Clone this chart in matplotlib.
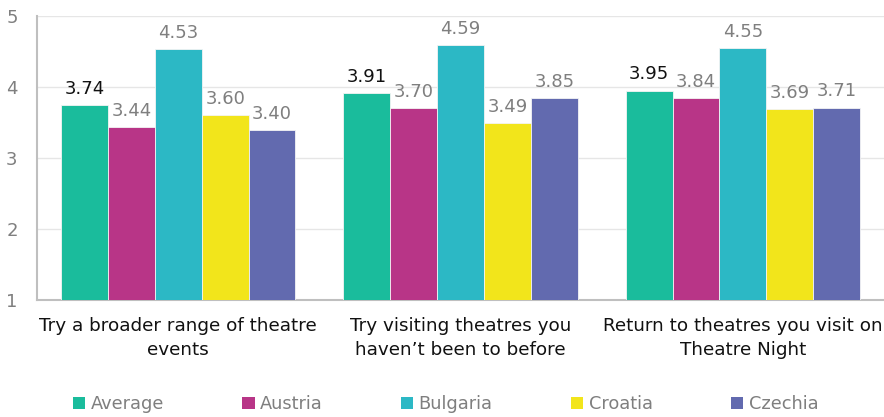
import matplotlib.pyplot as plt
import numpy as np
from matplotlib.patches import Patch

plt.rcParams['font.family'] = ['DejaVu Sans']

# Survey items and mean scores per country
categories = ['Try a broader range of theatre\nevents',
              'Try visiting theatres you\nhaven\u2019t been to before',
              'Return to theatres you visit on\nTheatre Night']
series_names = ['Average', 'Austria', 'Bulgaria', 'Croatia', 'Czechia']
average = [3.74, 3.91, 3.95]
austria = [3.44, 3.70, 3.84]
bulgaria = [4.53, 4.59, 4.55]
croatia = [3.60, 3.49, 3.69]
czechia = [3.40, 3.85, 3.71]

colors = ['#1ABC9C', '#B83587', '#2CB8C5', '#F2E51B', '#626AAF']
series = [average, austria, bulgaria, croatia, czechia]

fig = plt.figure(figsize=(8.84, 4.17), dpi=100)
ax = fig.add_axes([0.042, 0.2806, 0.958, 0.681])

x = np.arange(len(categories))
width = 0.166
for i, (vals, col) in enumerate(zip(series, colors)):
    pos = x + (i - 2) * width
    ax.bar(pos, np.array(vals) - 1, width, bottom=1, color=col,
           edgecolor='#f4f4f4', linewidth=0.6, zorder=3)
    label_color = '#111111' if i == 0 else '#7f7f7f'
    for p, v in zip(pos, vals):
        ax.text(p, v + 0.1, f'{v:.2f}', ha='center', va='bottom',
                fontsize=13, color=label_color, zorder=4)

ax.set_ylim(1, 5)
ax.set_xlim(-0.5, 2.5)
ax.set_yticks([1, 2, 3, 4, 5])
ax.set_xticks(x)
ax.set_xticklabels(categories, fontsize=13.2, color='#111111', linespacing=1.45)
ax.tick_params(axis='x', length=0, pad=12)
ax.tick_params(axis='y', length=0, pad=14, labelsize=13, labelcolor='#7f7f7f')
ax.yaxis.grid(True, color='#e6e6e6', linewidth=1, zorder=0)

for side in ['top', 'right']:
    ax.spines[side].set_visible(False)
for side in ['left', 'bottom']:
    ax.spines[side].set_color('#bfbfbf')
    ax.spines[side].set_linewidth(1.5)

handles = [Patch(facecolor=c, edgecolor='none') for c in colors]
leg = fig.legend(handles, series_names, loc='center', bbox_to_anchor=(0.504, 0.03),
                 ncol=5, frameon=False, fontsize=12.8, handlelength=0.7,
                 handleheight=0.7, handletextpad=0.3, columnspacing=4.4)
for t in leg.get_texts():
    t.set_color('#7f7f7f')

fig.savefig('out.png', dpi=100)
